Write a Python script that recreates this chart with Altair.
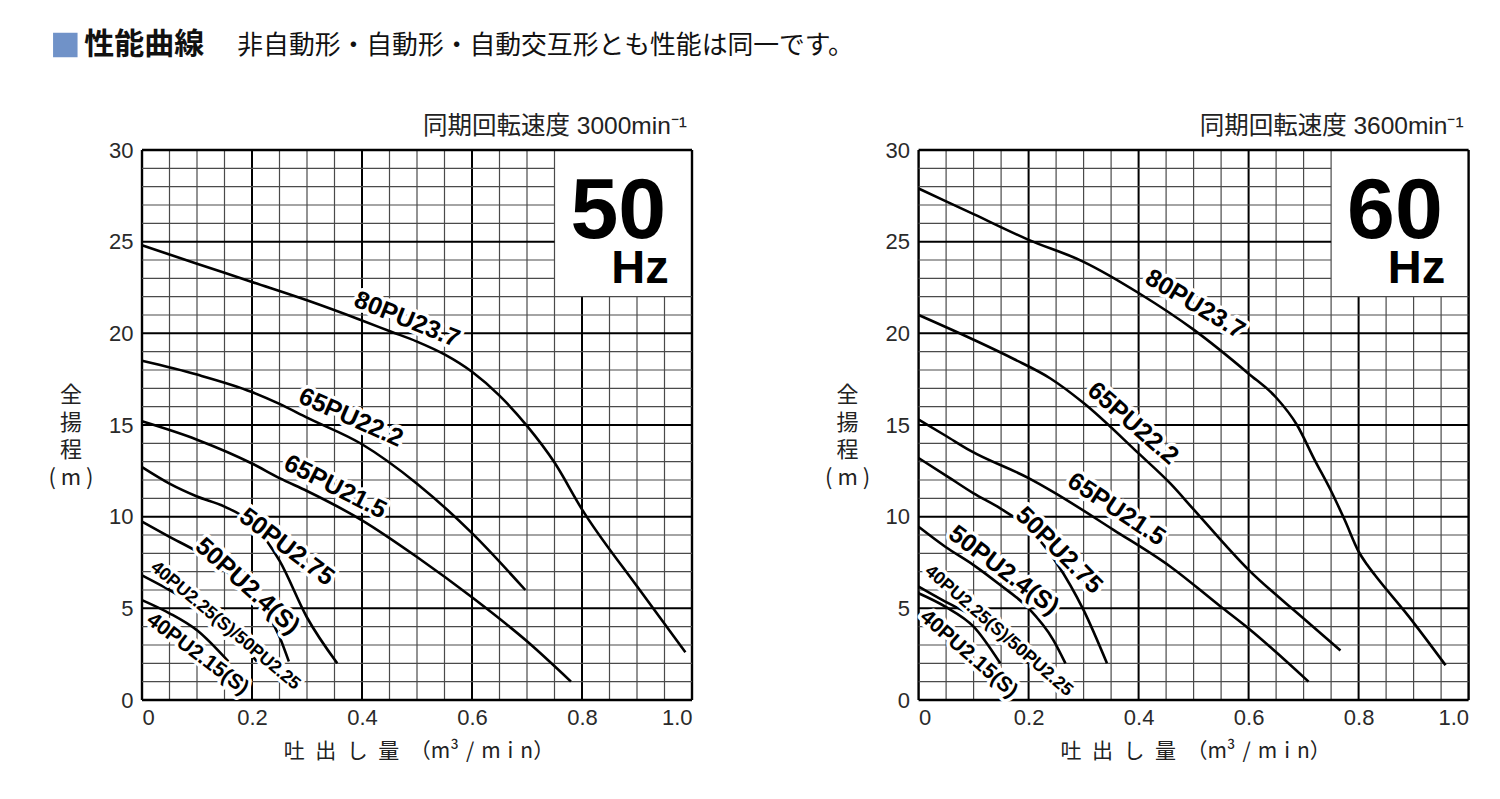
import altair as alt
import pandas as pd

FONT_LATIN = "Liberation Sans"
FONT_JP = "Noto Sans CJK JP"
FONT_MIX = "Liberation Sans, Noto Sans CJK JP"

models = ["80PU23.7", "65PU22.2", "65PU21.5", "50PU2.75", "50PU2.4(S)",
          "40PU2.25(S)/50PU2.25", "40PU2.15(S)"]
label_sizes = [25, 25, 25, 25, 25, 18, 21]

x_ticks = [0, 0.2, 0.4, 0.6, 0.8, 1.0]
y_ticks = [0, 5, 10, 15, 20, 25, 30]

# ---------------- 50 Hz (3000 min-1) ----------------
q50_80 = [0.0, 0.1, 0.2, 0.3, 0.4, 0.452, 0.5, 0.55, 0.6, 0.65, 0.7, 0.75, 0.8, 0.9, 0.988]
h50_80 = [24.8, 23.8, 22.8, 21.8, 20.7, 20.1, 19.55, 18.85, 17.9, 16.6, 14.95, 12.95, 10.4, 6.2, 2.6]
q50_65a = [0.0, 0.1, 0.2, 0.25, 0.3, 0.4, 0.5, 0.6, 0.697]
h50_65a = [18.5, 17.75, 16.8, 16.15, 15.4, 13.95, 11.8, 9.1, 6.0]
q50_65b = [0.0, 0.1, 0.2, 0.25, 0.3, 0.4, 0.5, 0.6, 0.7, 0.78]
h50_65b = [15.2, 14.2, 12.9, 12.1, 11.4, 9.8, 7.8, 5.6, 3.2, 1.0]
q50_50a = [0.0, 0.05, 0.1, 0.15, 0.2, 0.25, 0.3, 0.355]
h50_50a = [12.7, 11.8, 11.1, 10.55, 9.64, 7.6, 4.5, 2.0]
q50_50b = [0.0, 0.05, 0.1, 0.15, 0.2, 0.25, 0.267]
h50_50b = [9.73, 8.9, 8.1, 7.1, 5.64, 3.45, 2.1]
q50_40a = [0.0, 0.05, 0.1, 0.15, 0.209]
h50_40a = [6.8, 6.0, 5.1, 4.0, 2.1]
q50_40b = [0.0, 0.05, 0.1, 0.157]
h50_40b = [5.45, 4.73, 3.8, 2.1]

lab50_q = [0.482, 0.380, 0.3515, 0.2636, 0.192, 0.1515, 0.101]
lab50_h = [20.77, 15.42, 11.64, 8.36, 6.22, 4.04, 2.5]
lab50_angle = [22, 24, 27, 37, 42, 40, 37]

# ---------------- 60 Hz (3600 min-1) ----------------
q60_80 = [0.0, 0.1, 0.2, 0.3, 0.4, 0.5, 0.6, 0.65, 0.688, 0.72, 0.75, 0.775, 0.8, 0.815, 0.83, 0.89, 0.958]
h60_80 = [27.9, 26.5, 25.1, 23.9, 22.2, 20.2, 17.8, 16.5, 15.0, 13.1, 11.4, 9.8, 8.1, 7.4, 6.8, 4.6, 1.9]
q60_65a = [0.0, 0.1, 0.173, 0.239, 0.3, 0.4, 0.458, 0.5, 0.6, 0.7, 0.767]
h60_65a = [21.0, 19.65, 18.6, 17.55, 16.2, 13.45, 11.8, 10.4, 7.1, 4.45, 2.7]
q60_65b = [0.0, 0.05, 0.094, 0.2, 0.239, 0.355, 0.458, 0.549, 0.6, 0.709]
h60_65b = [15.3, 14.4, 13.6, 12.1, 11.45, 9.27, 7.27, 5.1, 3.9, 1.0]
q60_50a = [0.0, 0.0485, 0.1, 0.1485, 0.2, 0.2515, 0.3, 0.3425]
h60_50a = [13.2, 12.27, 11.27, 10.45, 9.36, 7.45, 4.9, 2.0]
q60_50b = [0.0, 0.0485, 0.1, 0.1485, 0.2, 0.245, 0.267]
h60_50b = [9.45, 8.36, 7.36, 6.27, 5.0, 3.27, 2.0]
q60_40a = [0.0, 0.0485, 0.1, 0.1485, 0.2]
h60_40a = [6.18, 5.36, 4.55, 3.45, 2.0]
q60_40b = [0.0, 0.0485, 0.1, 0.1485]
h60_40b = [5.82, 5.09, 4.0, 2.0]

lab60_q = [0.503, 0.390, 0.360, 0.2558, 0.1551, 0.1455, 0.091]
lab60_h = [21.6, 15.1, 10.42, 8.18, 7.09, 3.76, 2.5]
lab60_angle = [31, 41, 33.5, 45, 37, 41, 41]

W = 550
H = 550

xs = alt.Scale(domain=[0, 1], nice=False, zero=False)
ys = alt.Scale(domain=[0, 30], nice=False, zero=False)
xaxis = alt.Axis(values=x_ticks, title=None, domain=False, ticks=False, grid=False,
                 labelExpr="datum.value == 0 ? '0' : format(datum.value, '.1f')",
                 labelFont=FONT_LATIN, labelFontSize=22, labelColor="#2a2a2a",
                 labelPadding=7)
yaxis = alt.Axis(values=y_ticks, title=None, domain=False, ticks=False, grid=False,
                 labelFont=FONT_LATIN, labelFontSize=22, labelColor="#2a2a2a",
                 labelPadding=9)
X = alt.X("q:Q", scale=xs, axis=xaxis)
Y = alt.Y("h:Q", scale=ys, axis=yaxis)

one = pd.DataFrame({"a": [0]})


def panel(curves, lab_q, lab_h, lab_angle, hz, rpm, with_title):
    # grid
    vq = [round(0.05 * i, 2) for i in range(21)]
    vkind = ["frame" if i in (0, 20) else ("major" if i % 4 == 0 else "minor") for i in range(21)]
    vdf = pd.DataFrame({
        "q": vq, "h": 0.0,
        "h2": [22.0 if 0.76 < v < 0.99 else 30.0 for v in vq],
        "w": [2.4 if k == "frame" else (2.0 if k == "major" else 1.2) for k in vkind],
        "c": ["#000" if k != "minor" else "#4a4a4a" for k in vkind],
    })
    hv = list(range(31))
    hkind = ["frame" if v in (0, 30) else ("major" if v % 5 == 0 else "minor") for v in hv]
    hdf = pd.DataFrame({
        "h": hv, "q": 0.0,
        "q2": [0.75 if 22 < v < 30 else 1.0 for v in hv],
        "w": [2.4 if k == "frame" else (2.0 if k == "major" else 1.2) for k in hkind],
        "c": ["#000" if k != "minor" else "#4a4a4a" for k in hkind],
    })
    vgrid = alt.Chart(vdf).mark_rule().encode(
        x=X, y=Y, y2="h2:Q",
        strokeWidth=alt.StrokeWidth("w:Q", scale=None),
        color=alt.Color("c:N", scale=None))
    hgrid = alt.Chart(hdf).mark_rule().encode(
        x=X, x2="q2:Q", y=Y,
        strokeWidth=alt.StrokeWidth("w:Q", scale=None),
        color=alt.Color("c:N", scale=None))

    rows = []
    for name, qs, hs in curves:
        for i, (q, h) in enumerate(zip(qs, hs)):
            rows.append({"model": name, "q": q, "h": h, "o": i})
    cdf = pd.DataFrame(rows)
    lines = alt.Chart(cdf).mark_line(interpolate="monotone", color="#000",
                                     strokeWidth=2.6).encode(
        x=X, y=Y, detail="model:N", order="o:Q")

    ldf = pd.DataFrame({"q": lab_q, "h": lab_h, "t": models, "a": lab_angle,
                        "s": label_sizes})
    halo = alt.Chart(ldf).mark_text(font=FONT_LATIN, fontWeight="bold", fill="white",
                                    stroke="white", strokeWidth=7, strokeJoin="round",
                                    align="center", baseline="middle").encode(
        x=X, y=Y, text="t:N", angle=alt.Angle("a:Q", scale=None),
        size=alt.Size("s:Q", scale=None))
    labs = alt.Chart(ldf).mark_text(font=FONT_LATIN, fontWeight="bold", color="#000",
                                    align="center", baseline="middle").encode(
        x=X, y=Y, text="t:N", angle=alt.Angle("a:Q", scale=None),
        size=alt.Size("s:Q", scale=None))

    big_num = alt.Chart(pd.DataFrame({"q": [0.866], "h": [25.2], "t": [hz]})).mark_text(
        font=FONT_LATIN, fontWeight="bold", fontSize=86, color="#000",
        align="center", baseline="alphabetic").encode(x=X, y=Y, text="t:N")
    big_hz = alt.Chart(pd.DataFrame({"q": [0.9576], "h": [22.75], "t": ["Hz"]})).mark_text(
        font=FONT_LATIN, fontWeight="bold", fontSize=47, color="#000",
        align="right", baseline="alphabetic").encode(x=X, y=Y, text="t:N")

    rpm_txt = alt.Chart(one).mark_text(font=FONT_MIX, fontSize=24.5, color="#222",
                                       align="right", baseline="middle").encode(
        x=alt.value(W - 5), y=alt.value(-23), text=alt.value(rpm))
    ytitle = alt.Chart(one).mark_text(font=FONT_JP, fontSize=22, color="#222",
                                      lineBreak="\n", lineHeight=27.7,
                                      align="center", baseline="middle").encode(
        x=alt.value(-71), y=alt.value(245), text=alt.value("全\n揚\n程\n( m )"))
    sp = "\u2002"
    xt = sp.join(["吐", "出", "し", "量"]) + sp + "（" + "\u2004".join(["m³", "/", "m", "i", "n"]) + "）"
    xtitle = alt.Chart(one).mark_text(font=FONT_JP, fontSize=21, color="#222",
                                      align="center", baseline="middle").encode(
        x=alt.value(W / 2 + 2), y=alt.value(H + 52), text=alt.value(xt))

    layers = [vgrid, hgrid, lines, halo, labs, big_num, big_hz, rpm_txt, ytitle, xtitle]
    if with_title:
        sq = alt.Chart(one).mark_square(size=600, color="#7092c8", opacity=1,
                                        filled=True).encode(
            x=alt.value(-76.7), y=alt.value(-105))
        t1 = alt.Chart(one).mark_text(font=FONT_JP, fontWeight="bold", fontSize=30,
                                      color="#111", align="left", baseline="middle").encode(
            x=alt.value(-57.7), y=alt.value(-105), text=alt.value("性能曲線"))
        t2 = alt.Chart(one).mark_text(font=FONT_JP, fontSize=25.8, color="#111",
                                      align="left", baseline="middle").encode(
            x=alt.value(95.3), y=alt.value(-104),
            text=alt.value("非自動形・自動形・自動交互形とも性能は同一です。"))
        layers += [sq, t1, t2]
    return alt.layer(*layers).properties(width=W, height=H)


curves50 = [(models[0], q50_80, h50_80), (models[1], q50_65a, h50_65a),
            (models[2], q50_65b, h50_65b), (models[3], q50_50a, h50_50a),
            (models[4], q50_50b, h50_50b), (models[5], q50_40a, h50_40a),
            (models[6], q50_40b, h50_40b)]
curves60 = [(models[0], q60_80, h60_80), (models[1], q60_65a, h60_65a),
            (models[2], q60_65b, h60_65b), (models[3], q60_50a, h60_50a),
            (models[4], q60_50b, h60_50b), (models[5], q60_40a, h60_40a),
            (models[6], q60_40b, h60_40b)]

left = panel(curves50, lab50_q, lab50_h, lab50_angle, "50", "同期回転速度 3000min⁻¹", True)
right = panel(curves60, lab60_q, lab60_h, lab60_angle, "60", "同期回転速度 3600min⁻¹", False)

chart = alt.hconcat(left, right, spacing=226.6, bounds="flush").properties(
    padding={"left": 40, "top": 22, "right": 10, "bottom": 10},
    background="white",
).configure_view(stroke=None)

chart.save("out.html", embed_options={"renderer": "svg", "actions": False})
